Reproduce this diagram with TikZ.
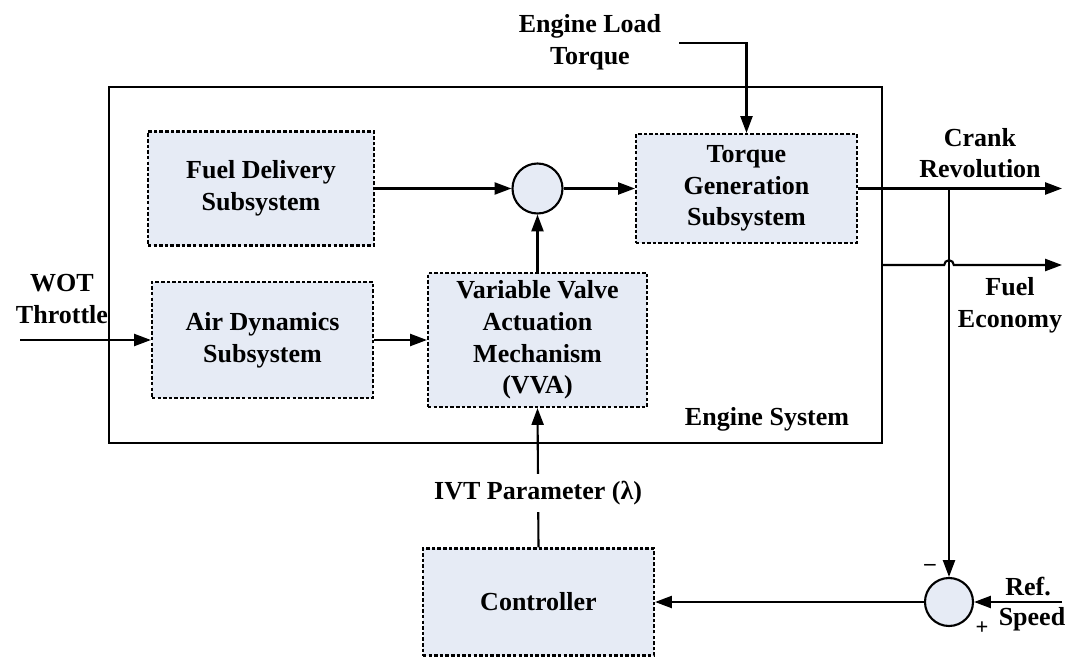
\documentclass[tikz,border=0pt]{standalone}
\usepackage{fontspec}
\setmainfont{Liberation Serif}
\usetikzlibrary{arrows.meta}
\definecolor{boxfill}{RGB}{230,235,245}
\newcommand\blockfont{\fontsize{18.5}{22.5}\selectfont\bfseries}

\begin{document}
\begin{tikzpicture}[x=0.025cm,y=-0.025cm,line width=1.5pt,
  sub/.style={draw,dash pattern=on 2.5pt off 1.5pt,fill=boxfill,align=center,font=\blockfont},
  sum/.style={circle,draw,fill=boxfill,inner sep=0pt},
  lab/.style={align=center,font=\blockfont,inner sep=1pt},
  sig/.style={-{Triangle[length=4.2mm,width=3mm]}}]
\useasboundingbox (0,0) rectangle (1068,657);
% engine system frame
\node[draw,minimum width=19.325cm,minimum height=8.9cm] at (495.5,265) (engine) {};
\node[lab] at (767,419) (englab) {Engine System};
% subsystems
\node[sub,minimum width=5.65cm,minimum height=2.85cm] at (261,188.5) (fuel) {Fuel Delivery\\Subsystem};
\node[sub,minimum width=5.525cm,minimum height=2.725cm] at (746.5,188.5) (torque) {Torque\\Generation\\Subsystem};
\node[sub,minimum width=5.525cm,minimum height=2.9cm] at (262.5,340) (air) {Air Dynamics\\Subsystem};
\node[sub,minimum width=5.475cm,minimum height=3.35cm] at (537.5,340) (vva) {Variable Valve\\Actuation\\Mechanism\\(VVA)};
\node[sub,minimum width=5.775cm,minimum height=2.675cm] at (538.5,602) (ctrl) {Controller};
\node[sum,minimum size=1.25cm] at (537.5,188.5) (sumtop) {};
\node[sum,minimum size=1.2cm] at (949,602) (sumbot) {};
% outside signals
\node[lab] at (590,42) (loadlab) {Engine Load\\Torque};
\node[lab] at (62,299) (wotlab) {WOT\\Throttle};
\node[lab] at (980,153) (cranklab) {Crank\\Revolution};
\node[lab] at (1010,305) (econlab) {Fuel\\Economy};
\node[lab] at (1028,587) (reflab) {Ref.};
\node[lab] at (1032,619) (speedlab) {Speed};
\node[font=\fontsize{16}{16}\selectfont\bfseries] at (930,567) (minus) {–};
\node[font=\fontsize{16}{16}\selectfont\bfseries] at (982,628) (plus) {+};
\coordinate (load) at (679,43);
\coordinate (wotin) at (20,340);
\coordinate (crankout) at (1062,188.5);
\coordinate (econout) at (1062,265);
\coordinate (tap) at (949,188.5);
\coordinate (refin) at (1062,602);
% connectors
\draw[sig] (load) -| (torque.north);
\draw[sig] (wotin) -- (air.west);
\draw[sig] (air.east) -- (vva.west);
\draw[sig] (fuel.east) -- (sumtop.west);
\draw[sig] (vva.north) -- (sumtop.south);
\draw[sig] (sumtop.east) -- (torque.west);
\draw[sig] (torque.east) -- (crankout);
\draw[sig] (tap) -- (sumbot.north);
\draw[sig] (engine.east) -- (944.2,265) arc[start angle=180,end angle=0,radius=0.12cm] -- (econout);
\draw[sig] (refin) -- (sumbot.east);
\draw[sig] (sumbot.west) -- (ctrl.east);
\draw[sig] (ctrl.north) -- (vva.south)
  node[lab,fill=white,inner sep=5pt,pos=0.39] (ivt) {IVT Parameter (λ)};
\end{tikzpicture}
\end{document}
